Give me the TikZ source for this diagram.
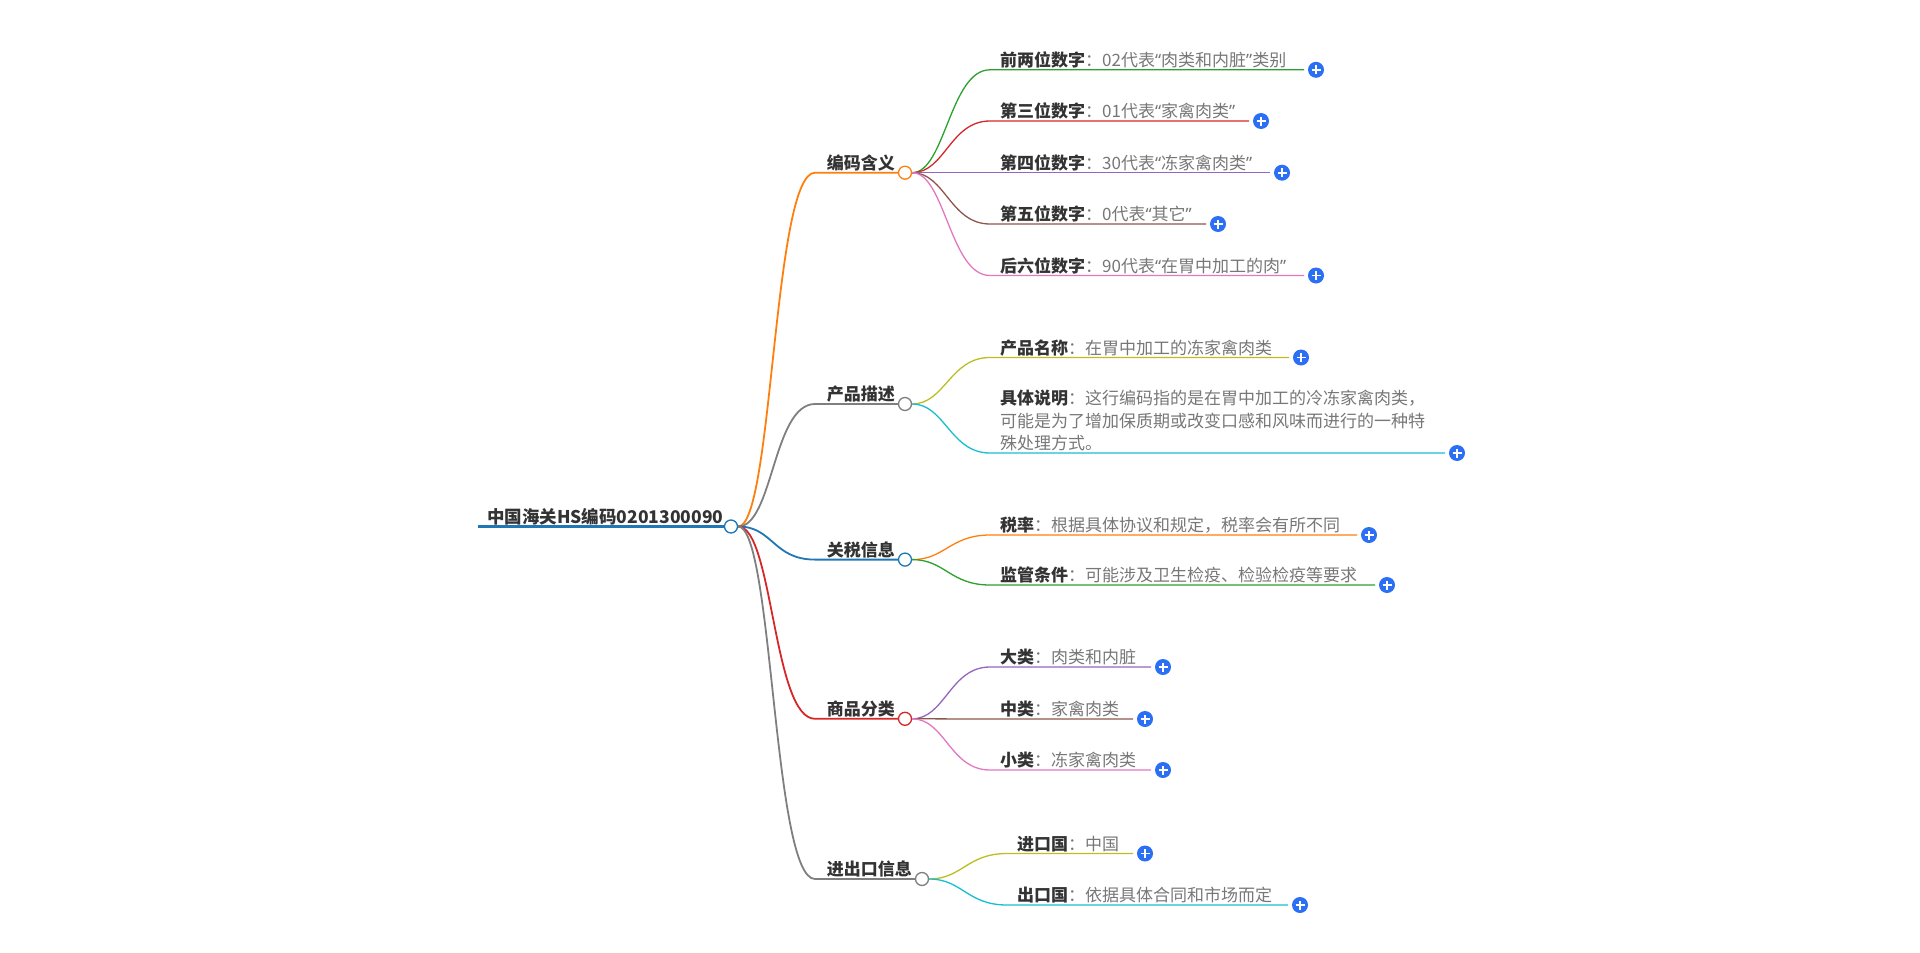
\documentclass[tikz,border=0pt]{standalone}
\usepackage{fontspec}
\setmainfont{Noto Sans CJK SC}
\newfontfamily\quotefont{Noto Sans}
\usetikzlibrary{positioning}

\definecolor{tabblue}{HTML}{1F77B4}
\definecolor{taborange}{HTML}{FF7F0E}
\definecolor{tabgreen}{HTML}{2CA02C}
\definecolor{tabred}{HTML}{D62728}
\definecolor{tabpurple}{HTML}{9467BD}
\definecolor{tabbrown}{HTML}{8C564B}
\definecolor{tabpink}{HTML}{E377C2}
\definecolor{tabgray}{HTML}{7F7F7F}
\definecolor{tabolive}{HTML}{BCBD22}
\definecolor{tabcyan}{HTML}{17BECF}
\definecolor{keygray}{HTML}{333333}
\definecolor{valgray}{HTML}{777777}
\definecolor{plusblue}{HTML}{2A6FF4}

\newcommand\zhq[1]{{\quotefont “}#1{\quotefont ”}}

\tikzset{
  dot/.style={circle,draw=#1,fill=white,line width=1.3pt,minimum size=13pt,inner sep=0pt},
  plus/.style={circle,fill=plusblue,minimum size=16pt,inner sep=0pt,
    path picture={\draw[white,line width=1.8pt]
      ([xshift=-4.5pt]path picture bounding box.center) -- ([xshift=4.5pt]path picture bounding box.center)
      ([yshift=-4.5pt]path picture bounding box.center) -- ([yshift=4.5pt]path picture bounding box.center);}},
  lvltxt/.style={anchor=base east,inner sep=0pt,text=keygray,font=\fontsize{17}{22.5}\selectfont\bfseries},
  leaftxt/.style={anchor=base west,inner sep=0pt,align=left,text=valgray,font=\fontsize{17}{22.5}\selectfont},
  branch/.style={line width=1.8pt},
  twig/.style={line width=1.3pt}
}

% #1 name, #2 parent, #3 text x, #4 line y, #5 line end x, #6 colour, #7 key, #8 value
\newcommand\addleaf[8]{%
  \coordinate (#1k) at (#3-10,#4);
  \coordinate (#1e) at (#5,#4);
  \node[plus] (#1p) at (#5+12,#4) {};
  \node[leaftxt] (#1t) at (#3,#4-3.5) {\textcolor{keygray}{\textbf{#7}}：#8};
  \draw[twig,#6] (#2) .. controls +(40,0) and +(-40,0) .. (#1k) -- (#1e);
}

\begin{document}
\begin{tikzpicture}[x=1pt,y=-1pt]
  \useasboundingbox (0,0) rectangle (1920,953);

  % root
  \node[anchor=base west,inner sep=0pt,text=keygray,font=\fontsize{17.5}{22}\selectfont\bfseries]
    (root) at (487,523) {中国海关HS编码0201300090};
  \node[dot=tabblue] (rootdot) at (731,526.5) {};
  \coordinate (rootstart) at (478,526.5);
  \draw[tabblue,line width=3.5pt] (rootstart) -- (rootdot);

  % first level
  \foreach \n/\y/\col/\txt in {1/172.7/taborange/编码含义, 2/404/tabgray/产品描述,
      3/559.6/tabblue/关税信息, 4/718.8/tabred/商品分类}{
    \node[dot=\col] (c\n) at (905,\y) {};
    \node[lvltxt] (t\n) at (895,\y-3.5) {\txt};
    \coordinate (h\n) at (815,\y);
    \draw[branch,\col] (rootdot) .. controls +(42,0) and +(-42,0) .. (h\n) -- (c\n);
  }
  \node[dot=tabgray] (c5) at (922,879) {};
  \node[lvltxt] (t5) at (912,875.5) {进出口信息};
  \coordinate (h5) at (815,879);
  \draw[branch,tabgray] (rootdot) .. controls +(42,0) and +(-42,0) .. (h5) -- (c5);

  % 编码含义
  \addleaf{a}{c1}{1000}{69.8}{1304}{tabgreen}{前两位数字}{02代表\zhq{肉类和内脏}类别}
  \addleaf{b}{c1}{1000}{121}{1249}{tabred}{第三位数字}{01代表\zhq{家禽肉类}}
  \addleaf{c}{c1}{1000}{172.7}{1270}{tabpurple}{第四位数字}{30代表\zhq{冻家禽肉类}}
  \addleaf{d}{c1}{1000}{224}{1206}{tabbrown}{第五位数字}{0代表\zhq{其它}}
  \addleaf{e}{c1}{1000}{275.5}{1304}{tabpink}{后六位数字}{90代表\zhq{在胃中加工的肉}}

  % 产品描述
  \addleaf{f}{c2}{1000}{357.5}{1289}{tabolive}{产品名称}{在胃中加工的冻家禽肉类}
  \coordinate (gk) at (990,453);
  \coordinate (ge) at (1445,453);
  \node[plus] (gp) at (1457,453) {};
  \node[leaftxt] (gt) at (1000,449.5) {\textcolor{keygray}{\textbf{具体说明}}：这行编码指的是在胃中加工的冷冻家禽肉类，\\
    可能是为了增加保质期或改变口感和风味而进行的一种特\\殊处理方式。};
  \draw[twig,tabcyan] (c2) .. controls +(40,0) and +(-40,0) .. (gk) -- (ge);

  % 关税信息
  \addleaf{h}{c3}{1000}{535}{1357}{taborange}{税率}{根据具体协议和规定，税率会有所不同}
  \addleaf{i}{c3}{1000}{585}{1375}{tabgreen}{监管条件}{可能涉及卫生检疫、检验检疫等要求}

  % 商品分类
  \addleaf{j}{c4}{1000}{667}{1151}{tabpurple}{大类}{肉类和内脏}
  \addleaf{k}{c4}{1000}{719}{1133}{tabbrown}{中类}{家禽肉类}
  \addleaf{l}{c4}{1000}{770}{1151}{tabpink}{小类}{冻家禽肉类}

  % 进出口信息
  \addleaf{m}{c5}{1017}{853.5}{1133}{tabolive}{进口国}{中国}
  \addleaf{n}{c5}{1017}{905}{1288}{tabcyan}{出口国}{依据具体合同和市场而定}
\end{tikzpicture}
\end{document}
